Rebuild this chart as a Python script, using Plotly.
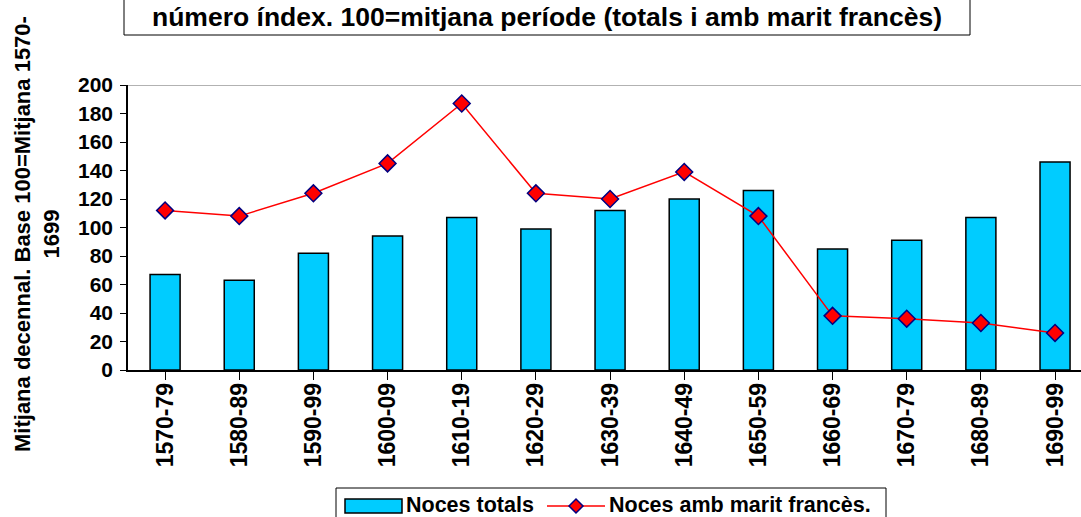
import plotly.graph_objects as go

categories = ["1570-79", "1580-89", "1590-99", "1600-09", "1610-19", "1620-29", "1630-39",
              "1640-49", "1650-59", "1660-69", "1670-79", "1680-89", "1690-99"]
noces_totals = [67, 63, 82, 94, 107, 99, 112, 120, 126, 85, 91, 107, 146]
noces_francès = [112, 108, 124, 145, 187, 124, 120, 139, 108, 38, 36, 33, 26]
y_ticks = [0, 20, 40, 60, 80, 100, 120, 140, 160, 180, 200]
series_names = ["Noces totals", "Noces amb marit francès."]
title_text = "número índex. 100=mitjana període (totals i amb marit francès)"
ytitle_text = "Mitjana decennal. Base 100=Mitjana 1570-<br>1699"

FONT = "Liberation Sans, Arial, sans-serif"
W, H = 1081, 517
ML, MR, MT, MB = 128, 0, 85, 147
BAR_COLOR = "#00CCFF"
LINE_COLOR = "#FF0000"
MARKER_EDGE = "#000080"

fig = go.Figure()
fig.add_trace(go.Bar(
    x=list(range(len(categories))), y=noces_totals, name=series_names[0],
    marker=dict(color=BAR_COLOR, line=dict(color="black", width=1.5)),
    width=0.405,
))
fig.add_trace(go.Scatter(
    x=list(range(len(categories))), y=noces_francès, name=series_names[1],
    mode="lines+markers",
    line=dict(color=LINE_COLOR, width=1.5),
    marker=dict(symbol="diamond", size=13, color=LINE_COLOR, line=dict(color=MARKER_EDGE, width=1.5)),
))

fig.update_layout(
    width=W, height=H,
    margin=dict(l=ML, r=MR, t=MT, b=MB, autoexpand=False),
    paper_bgcolor="white", plot_bgcolor="white",
    font=dict(family=FONT, color="black"),
    showlegend=False,
)
fig.update_xaxes(
    range=[-0.5, 12.35], automargin=False,
    tickmode="array", tickvals=list(range(len(categories))), ticktext=categories,
    tickangle=-90, tickfont=dict(family=FONT, size=23, weight="bold"),
    showline=True, linecolor="black", linewidth=1.5,
    ticks="outside", ticklen=8, tickcolor="black", tickwidth=1,
    showgrid=False, zeroline=False, tickson="boundaries", ticklabelstandoff=-6,
)
fig.update_yaxes(
    range=[0, 200], automargin=False, tickmode="array", tickvals=y_ticks,
    tickfont=dict(family=FONT, size=21, weight="bold"),
    showline=True, linecolor="black", linewidth=1.5,
    ticks="outside", ticklen=6, tickcolor="black", tickwidth=1,
    showgrid=False, zeroline=False, ticklabelstandoff=3,
)

# top border gray line at 200
fig.add_shape(type="line", xref="paper", yref="y", x0=0, x1=1, y0=200, y1=200,
              line=dict(color="#999999", width=1.5))


def px_x(px):
    return (px - ML) / (W - ML - MR)


def px_y(py):
    return (H - MB - py) / (H - MT - MB)


# title box (partially cut off above)
fig.add_shape(type="rect", xref="paper", yref="paper",
              x0=px_x(124), x1=px_x(970), y0=px_y(35), y1=px_y(-20),
              line=dict(color="black", width=1), fillcolor="white", layer="above")
fig.add_annotation(
    text=title_text, xref="paper", yref="paper", x=px_x(547), y=px_y(0),
    xanchor="center", yanchor="top", showarrow=False,
    font=dict(family=FONT, size=26.5, weight="bold", color="black"),
)

# y-axis title
fig.add_annotation(
    text=ytitle_text, xref="paper", yref="paper", x=px_x(37), y=px_y(234),
    xanchor="center", yanchor="middle", textangle=-90, showarrow=False,
    font=dict(family=FONT, size=22, weight="bold", color="black"),
)

# custom legend (box cut off at bottom as in reference)
fig.add_shape(type="rect", xref="paper", yref="paper",
              x0=px_x(336), x1=px_x(886), y0=px_y(530), y1=px_y(488),
              line=dict(color="black", width=1), fillcolor="white")
fig.add_shape(type="rect", xref="paper", yref="paper",
              x0=px_x(345), x1=px_x(402), y0=px_y(513), y1=px_y(499),
              line=dict(color="black", width=1.5), fillcolor=BAR_COLOR)
fig.add_annotation(text=series_names[0], xref="paper", yref="paper",
                   x=px_x(404), y=px_y(505), xanchor="left", yanchor="middle", showarrow=False,
                   font=dict(family=FONT, size=21.5, weight="bold", color="black"))
fig.add_shape(type="line", xref="paper", yref="paper",
              x0=px_x(547), x1=px_x(605), y0=px_y(506), y1=px_y(506),
              line=dict(color=LINE_COLOR, width=1.5))
cx, cy, r = 576, 506, 7
fig.add_shape(type="path", xref="paper", yref="paper",
              path=f"M {px_x(cx - r)} {px_y(cy)} L {px_x(cx)} {px_y(cy - r)} L {px_x(cx + r)} {px_y(cy)} L {px_x(cx)} {px_y(cy + r)} Z",
              line=dict(color=MARKER_EDGE, width=1.5), fillcolor=LINE_COLOR)
fig.add_annotation(text=series_names[1], xref="paper", yref="paper",
                   x=px_x(607), y=px_y(505), xanchor="left", yanchor="middle", showarrow=False,
                   font=dict(family=FONT, size=21.5, weight="bold", color="black"))

fig.write_html("out.html", config={"displayModeBar": False},
               post_script="document.body.style.margin='0';document.body.style.overflow='hidden';")
